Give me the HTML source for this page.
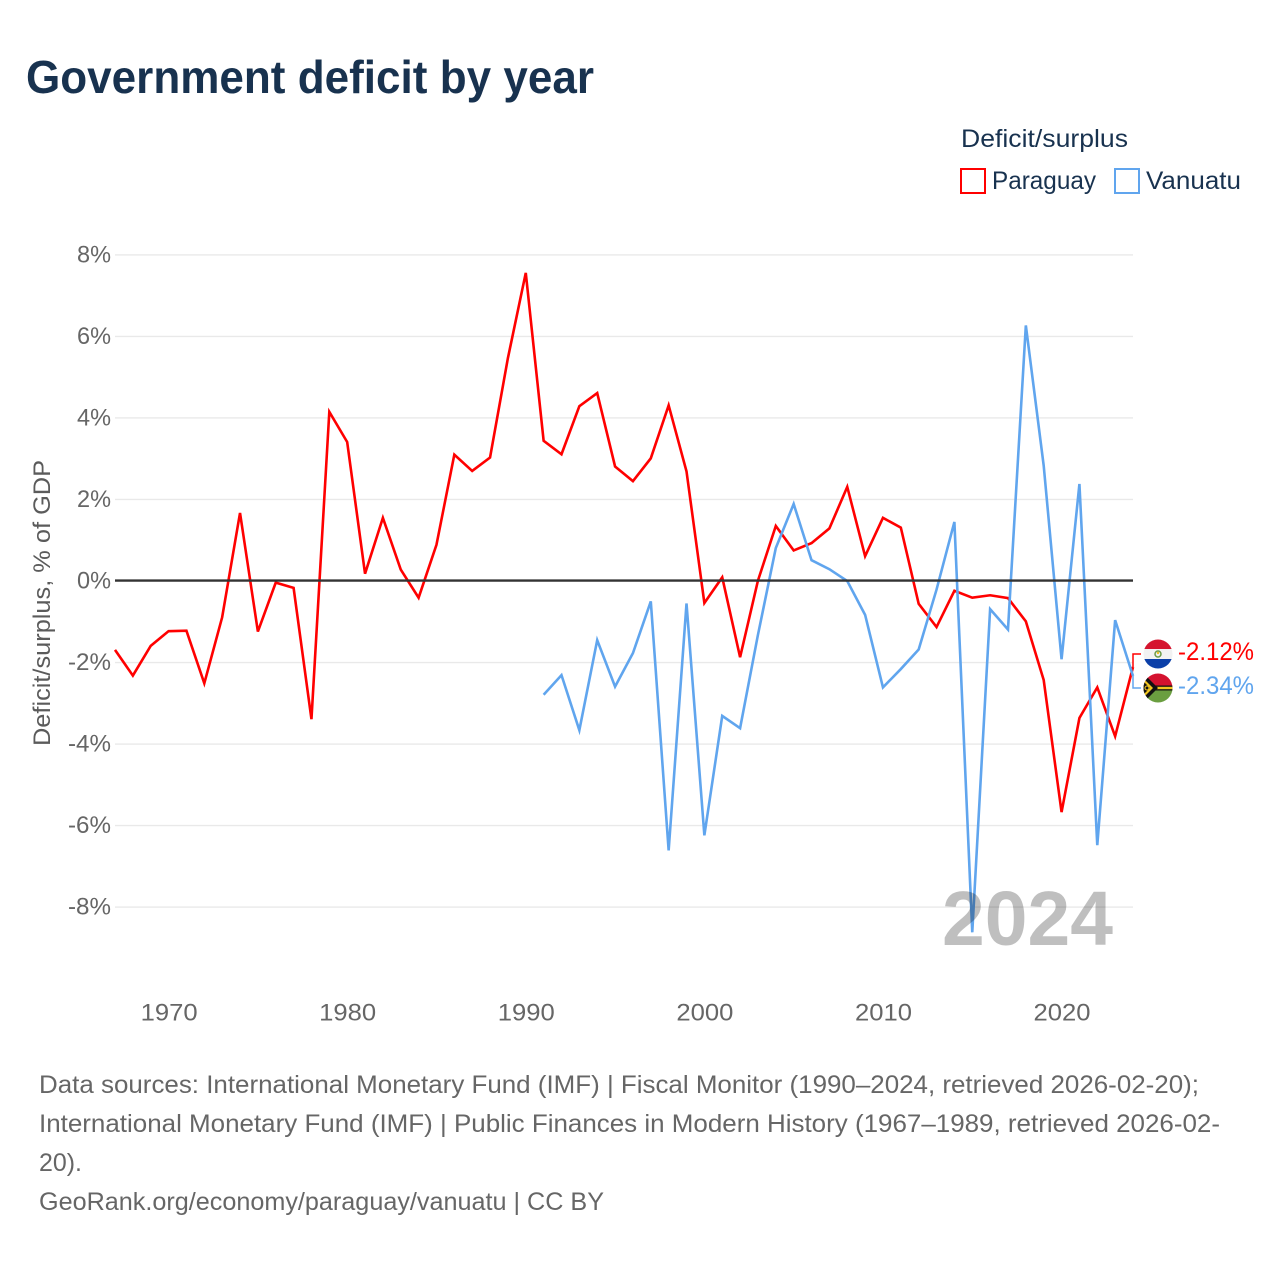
<!DOCTYPE html>
<html lang="en">
<head>
<meta charset="utf-8">
<title>Government deficit by year</title>
<style>
html,body{margin:0;padding:0;background:#fff;width:1280px;height:1280px;overflow:hidden}
svg{display:block}
text{font-family:"Liberation Sans",sans-serif}
</style>
</head>
<body>
<svg id="chart" xmlns="http://www.w3.org/2000/svg" width="1280" height="1280" viewBox="0 0 1280 1280">
  <defs>
    <clipPath id="clip-py"><circle cx="1158" cy="654" r="14.5"/></clipPath>
    <clipPath id="clip-vu"><circle cx="1158" cy="688" r="14.5"/></clipPath>
  </defs>
  <rect width="1280" height="1280" fill="#fff"/>
  <text x="26" y="93" font-size="46" font-weight="700" fill="#18324f" textLength="568" lengthAdjust="spacingAndGlyphs">Government deficit by year</text>

  <g>
    <text x="961" y="147" font-size="25" fill="#18324f" textLength="167" lengthAdjust="spacingAndGlyphs">Deficit/surplus</text>
    <rect x="961" y="169" width="24" height="24" fill="#fff" stroke="#ff0000" stroke-width="2"/>
    <text x="992" y="189" font-size="25" fill="#18324f" textLength="104" lengthAdjust="spacingAndGlyphs">Paraguay</text>
    <rect x="1115" y="169" width="24" height="24" fill="#fff" stroke="#60a5ee" stroke-width="2"/>
    <text x="1146" y="189" font-size="25" fill="#18324f" textLength="95" lengthAdjust="spacingAndGlyphs">Vanuatu</text>
  </g>

  <g id="grid"></g>
  <g id="yticks"></g>
  <g id="xticks"></g>
  <text transform="translate(50,603) rotate(-90)" text-anchor="middle" font-size="24.5" fill="#5b5b5b" textLength="286" lengthAdjust="spacingAndGlyphs">Deficit/surplus, % of GDP</text>

  <g id="series"></g>
  <g id="connectors"></g>
  <line id="zero" stroke="#333" stroke-width="2.4"/>

  <g clip-path="url(#clip-py)">
    <rect x="1143" y="639" width="30" height="10" fill="#d5152f"/>
    <rect x="1143" y="649" width="30" height="10" fill="#f2f2f2"/>
    <rect x="1143" y="659" width="30" height="10" fill="#0b3fa8"/>
    <circle cx="1158" cy="654" r="3" fill="none" stroke="#6b9a45" stroke-width="1.5"/>
    <circle cx="1158" cy="653" r="1.2" fill="#f0c020"/>
  </g>
  <g clip-path="url(#clip-vu)">
    <rect x="1143" y="673" width="30" height="15" fill="#d4122f"/>
    <rect x="1143" y="688" width="30" height="15" fill="#6a9e40"/>
    <rect x="1143" y="685.5" width="30" height="5" fill="#111"/>
    <rect x="1150" y="686.8" width="23" height="2.4" fill="#f2c61f"/>
    <polygon points="1143,673 1158,688 1143,703" fill="#111"/>
    <polygon points="1143,678 1153,688 1143,698" fill="#f2c61f"/>
    <polygon points="1143,681 1150,688 1143,695" fill="#111"/>
    <circle cx="1147" cy="688" r="2" fill="none" stroke="#f2c61f" stroke-width="1.1"/>
  </g>

  <text x="1178" y="660" font-size="25" fill="#ff0000" textLength="76" lengthAdjust="spacingAndGlyphs">-2.12%</text>
  <text x="1178" y="694" font-size="25" fill="#60a5ee" textLength="76" lengthAdjust="spacingAndGlyphs">-2.34%</text>

  <text x="942" y="945" font-size="77" font-weight="700" fill="#000" fill-opacity="0.25" textLength="171" lengthAdjust="spacingAndGlyphs">2024</text>

  <g font-size="25" fill="#666">
    <text x="39" y="1093" textLength="1160" lengthAdjust="spacingAndGlyphs">Data sources: International Monetary Fund (IMF) | Fiscal Monitor (1990–2024, retrieved 2026-02-20);</text>
    <text x="39" y="1132" textLength="1181" lengthAdjust="spacingAndGlyphs">International Monetary Fund (IMF) | Public Finances in Modern History (1967–1989, retrieved 2026-02-</text>
    <text x="39" y="1171" textLength="43" lengthAdjust="spacingAndGlyphs">20).</text>
    <text x="39" y="1210" textLength="565" lengthAdjust="spacingAndGlyphs">GeoRank.org/economy/paraguay/vanuatu | CC BY</text>
  </g>
</svg>
<script>
const startYear = 1967;
const endYear = 2024;
const paraguayStart = 1967;
const vanuatuStart = 1991;
const paraguayValues = [-1.7,-2.33,-1.6,-1.24,-1.23,-2.52,-0.9,1.66,-1.25,-0.05,-0.18,-3.4,4.14,3.4,0.17,1.54,0.27,-0.42,0.88,3.09,2.69,3.02,5.46,7.55,3.43,3.1,4.28,4.6,2.8,2.44,3.0,4.3,2.68,-0.55,0.08,-1.88,0.0,1.34,0.74,0.92,1.28,2.3,0.6,1.54,1.3,-0.57,-1.14,-0.25,-0.42,-0.36,-0.43,-1.0,-2.44,-5.68,-3.37,-2.62,-3.82,-2.12];
const vanuatuValues = [-2.8,-2.32,-3.67,-1.46,-2.6,-1.78,-0.51,-6.62,-0.56,-6.25,-3.32,-3.62,-1.33,0.8,1.88,0.5,0.28,-0.01,-0.84,-2.62,-2.17,-1.69,-0.22,1.44,-8.63,-0.7,-1.2,6.26,2.82,-1.93,2.37,-6.49,-0.97,-2.34];
const yTickValues = [8,6,4,2,0,-2,-4,-6,-8];
const xTickValues = [1970,1980,1990,2000,2010,2020];

const NS = 'http://www.w3.org/2000/svg';
const plotLeft = 115, plotRight = 1133;
function xScale(year){ return plotLeft + (year - startYear) * (plotRight - plotLeft) / (endYear - startYear); }
function yScale(v){ return 580.6 - v * 40.76; }
function make(tag, attrs, parent){
  const el = document.createElementNS(NS, tag);
  for (const k in attrs) el.setAttribute(k, attrs[k]);
  parent.appendChild(el);
  return el;
}

const grid = document.getElementById('grid');
const yticks = document.getElementById('yticks');
yTickValues.forEach(function(v){
  if (v !== 0) {
    const gl = make('line', {x1: plotLeft, x2: plotRight, y1: yScale(v) + 0.4, y2: yScale(v) + 0.4, stroke: '#e9e9e9', 'stroke-width': 1.4}, grid);
    
    
  }
  const w = v < 0 ? 43 : 34;
  const t = make('text', {x: 111 - w, y: yScale(v) + 8, 'font-size': 24.5, fill: '#666', textLength: w, lengthAdjust: 'spacingAndGlyphs'}, yticks);
  
  
  t.textContent = v + '%';
});

const xticks = document.getElementById('xticks');
xTickValues.forEach(function(y){
  const t = make('text', {x: xScale(y) - 28, y: 1020.5, 'font-size': 24.5, fill: '#666', textLength: 57, lengthAdjust: 'spacingAndGlyphs'}, xticks);
  
  
  t.textContent = y;
});

function linePath(values, first){
  return values.map(function(v, i){
    return (i ? 'L' : 'M') + xScale(first + i).toFixed(2) + ' ' + yScale(v).toFixed(2);
  }).join(' ');
}
const series = document.getElementById('series');
const lineP = make('path', {d: linePath(paraguayValues, paraguayStart), fill: 'none', stroke: '#ff0000', 'stroke-width': 2.6, 'stroke-linejoin': 'miter'}, series);


const lineV = make('path', {d: linePath(vanuatuValues, vanuatuStart), fill: 'none', stroke: '#60a5ee', 'stroke-width': 2.6, 'stroke-linejoin': 'miter'}, series);



const zero = document.getElementById('zero');
zero.setAttribute('x1', plotLeft);
zero.setAttribute('x2', plotRight);
zero.setAttribute('y1', yScale(0));
zero.setAttribute('y2', yScale(0));

const connectors = document.getElementById('connectors');
const lastP = paraguayValues[paraguayValues.length - 1];
const lastV = vanuatuValues[vanuatuValues.length - 1];
const connP = make('path', {d: 'M' + xScale(endYear) + ' ' + yScale(lastP) + ' V654 H1141', fill: 'none', stroke: '#ff0000', 'stroke-width': 1.5}, connectors);


const connV = make('path', {d: 'M' + xScale(endYear) + ' ' + yScale(lastV) + ' V688 H1141', fill: 'none', stroke: '#60a5ee', 'stroke-width': 1.5}, connectors);


</script>
</body>
</html>
